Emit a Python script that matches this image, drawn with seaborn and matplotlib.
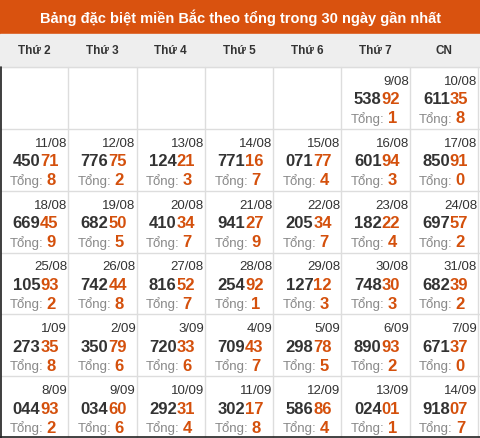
import matplotlib
matplotlib.use("Agg")
import matplotlib.pyplot as plt
import seaborn as sns

sns.set_style("white")
plt.rcParams['font.family'] = ['Liberation Sans', 'DejaVu Sans']

title = "Bảng đặc biệt miền Bắc theo tổng trong 30 ngày gần nhất"
days = ["Thứ 2", "Thứ 3", "Thứ 4", "Thứ 5", "Thứ 6", "Thứ 7", "CN"]

# first result falls on Saturday (col 5) of week 0
dates = ["9/08", "10/08",
         "11/08", "12/08", "13/08", "14/08", "15/08", "16/08", "17/08",
         "18/08", "19/08", "20/08", "21/08", "22/08", "23/08", "24/08",
         "25/08", "26/08", "27/08", "28/08", "29/08", "30/08", "31/08",
         "1/09", "2/09", "3/09", "4/09", "5/09", "6/09", "7/09",
         "8/09", "9/09", "10/09", "11/09", "12/09", "13/09", "14/09"]
results = ["53892", "61135",
           "45071", "77675", "12421", "77116", "07177", "60194", "85091",
           "66945", "68250", "41034", "94127", "20534", "18222", "69757",
           "10593", "74244", "81652", "25492", "12712", "74830", "68239",
           "27335", "35079", "72033", "70943", "29878", "89093", "67137",
           "04493", "03460", "29231", "30217", "58686", "02401", "91807"]
start_col = 5

W, H = 480, 439
fig = plt.figure(figsize=(4.8, 4.39), dpi=100)
ax = fig.add_axes([0, 0, 1, 1])
ax.set_xlim(0, W)
ax.set_ylim(H, 0)
ax.axis("off")

orange = "#d4500c"
title_h, head_h = 35, 33
ncol = 7
cw = 478 / ncol
row_h = (H - title_h - head_h) / 6

ax.add_patch(plt.Rectangle((0, 0), W, title_h, color="#d9520f"))
ax.text(W / 2, title_h / 2, title, color="white", fontsize=10.5,
        fontweight="bold", ha="center", va="center")
ax.add_patch(plt.Rectangle((0, title_h), W, head_h, color="#eeeeee"))
for i, d in enumerate(days):
    ax.text(cw * i + cw / 2, title_h + head_h / 2, d, fontsize=8.5,
            fontweight="bold", color="#333333", ha="center", va="center")

top = title_h + head_h
for i in range(ncol + 1):
    ax.plot([cw * i, cw * i], [top, H], color="#dddddd", lw=1)
for r in range(7):
    ax.plot([0, W], [top + r * row_h] * 2, color="#dddddd", lw=1)
ax.plot([0.5, 0.5], [top, H], color="#222222", lw=1.2)
ax.plot([0, W], [H - 0.5] * 2, color="#222222", lw=1.2)

for k, (d, n) in enumerate(zip(dates, results)):
    pos = k + start_col
    r, c = pos // ncol, pos % ncol
    x0 = cw * c
    y0 = top + r * row_h
    cx = x0 + cw / 2
    total = (int(n[-2]) + int(n[-1])) % 10
    ax.text(x0 + cw - 1, y0 + 14, d, fontsize=9.5, color="#333333",
            ha="right", va="center")
    ax.text(cx + 6, y0 + 32, n[:3], fontsize=12, fontweight="bold",
            color="#333333", ha="right", va="center")
    ax.text(cx + 6, y0 + 32, n[3:], fontsize=12, fontweight="bold",
            color=orange, ha="left", va="center")
    ax.text(cx + 9, y0 + 51, "Tổng:", fontsize=9.5, color="#888888",
            ha="right", va="center")
    ax.text(cx + 12, y0 + 51, str(total), fontsize=12, fontweight="bold",
            color=orange, ha="left", va="center")

fig.savefig("out.png", dpi=100)
